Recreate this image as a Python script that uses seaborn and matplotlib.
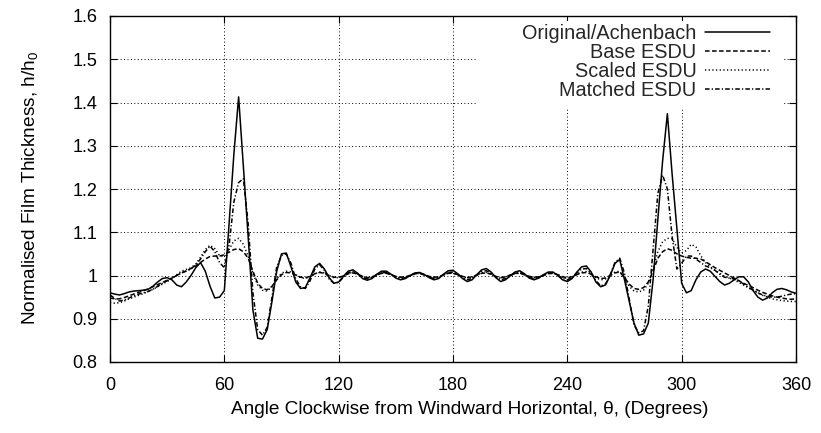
import numpy as np
import pandas as pd
import matplotlib
matplotlib.use("Agg")
import matplotlib.pyplot as plt
from matplotlib.patches import Rectangle
from matplotlib.ticker import FuncFormatter
import seaborn as sns

# ---------------- data ----------------
angles = np.arange(0, 362.5, 2.5)

original = [
    0.960, 0.957, 0.955, 0.958, 0.962, 0.964, 0.965, 0.966, 0.968, 0.975,
    0.985, 0.993, 0.995, 0.990, 0.978, 0.974, 0.985, 1.000, 1.018, 1.030,
    1.010, 0.975, 0.948, 0.950, 0.965, 1.120, 1.280, 1.413, 1.250, 1.090,
    0.920, 0.855, 0.853, 0.875, 0.940, 1.010, 1.050, 1.052, 1.020, 0.985,
    0.970, 0.972, 0.995, 1.020, 1.028, 1.015, 0.995, 0.982, 0.985, 0.998,
    1.010, 1.013, 1.005, 0.993, 0.989, 0.993, 1.003, 1.010, 1.010, 1.003,
    0.994, 0.990, 0.993, 1.000, 1.006, 1.007, 1.002, 0.995, 0.990, 0.993,
    1.003, 1.011, 1.012, 1.004, 0.993, 0.986, 0.990, 1.002, 1.013, 1.016,
    1.008, 0.995, 0.986, 0.990, 0.999, 1.008, 1.011, 1.004, 0.994, 0.990,
    0.994, 1.002, 1.008, 1.008, 1.000, 0.990, 0.986, 0.993, 1.008, 1.020,
    1.022, 1.008, 0.985, 0.974, 0.978, 1.000, 1.028, 1.037, 0.990, 0.940,
    0.890, 0.862, 0.865, 0.890, 0.990, 1.130, 1.265, 1.374, 1.234, 1.108,
    0.982, 0.960, 0.965, 0.990, 1.008, 1.015, 1.010, 0.998, 0.986, 0.978,
    0.982, 0.990, 0.997, 0.997, 0.985, 0.965, 0.950, 0.943, 0.948, 0.960,
    0.968, 0.970, 0.967, 0.962, 0.959,
]

base_esdu = [
    0.948, 0.946, 0.946, 0.949, 0.953, 0.957, 0.961, 0.965, 0.969, 0.974,
    0.979, 0.984, 0.989, 0.994, 1.000, 1.006, 1.011, 1.016, 1.022, 1.030,
    1.038, 1.044, 1.045, 1.045, 1.048, 1.054, 1.060, 1.062, 1.055, 1.040,
    1.010, 0.982, 0.970, 0.967, 0.975, 0.990, 1.002, 1.007, 1.006, 1.001,
    0.996, 0.995, 0.998, 1.004, 1.007, 1.005, 1.000, 0.996, 0.996, 0.999,
    1.004, 1.006, 1.003, 0.998, 0.995, 0.997, 1.001, 1.005, 1.005, 1.002,
    0.998, 0.996, 0.997, 1.000, 1.004, 1.005, 1.002, 0.998, 0.996, 0.997,
    1.001, 1.005, 1.005, 1.002, 0.998, 0.995, 0.997, 1.001, 1.005, 1.006,
    1.003, 0.998, 0.995, 0.997, 1.001, 1.005, 1.005, 1.002, 0.998, 0.996,
    0.997, 1.000, 1.004, 1.005, 1.002, 0.997, 0.995, 0.997, 1.002, 1.006,
    1.007, 1.003, 0.997, 0.993, 0.994, 1.000, 1.006, 1.008, 0.995, 0.980,
    0.970, 0.968, 0.972, 0.985, 1.010, 1.040, 1.055, 1.062, 1.058, 1.050,
    1.045, 1.042, 1.040, 1.040, 1.038, 1.032, 1.025, 1.018, 1.012, 1.006,
    1.000, 0.994, 0.988, 0.982, 0.977, 0.972, 0.966, 0.961, 0.957, 0.953,
    0.950, 0.948, 0.946, 0.945, 0.946,
]

scaled_esdu = [
    0.938, 0.936, 0.937, 0.941, 0.946, 0.950, 0.954, 0.958, 0.963, 0.968,
    0.974, 0.980, 0.986, 0.993, 1.002, 1.010, 1.014, 1.018, 1.026, 1.042,
    1.060, 1.070, 1.062, 1.046, 1.044, 1.060, 1.080, 1.086, 1.072, 1.045,
    1.005, 0.978, 0.966, 0.964, 0.974, 0.992, 1.005, 1.010, 1.008, 1.002,
    0.995, 0.993, 0.997, 1.004, 1.008, 1.006, 1.000, 0.995, 0.995, 0.999,
    1.005, 1.007, 1.004, 0.998, 0.994, 0.996, 1.001, 1.006, 1.006, 1.002,
    0.997, 0.995, 0.996, 1.000, 1.005, 1.006, 1.002, 0.997, 0.995, 0.996,
    1.001, 1.006, 1.006, 1.002, 0.997, 0.994, 0.996, 1.001, 1.006, 1.007,
    1.003, 0.997, 0.994, 0.996, 1.001, 1.006, 1.006, 1.002, 0.997, 0.995,
    0.996, 1.000, 1.005, 1.006, 1.002, 0.996, 0.993, 0.996, 1.003, 1.008,
    1.009, 1.004, 0.995, 0.990, 0.992, 1.000, 1.008, 1.010, 0.993, 0.975,
    0.964, 0.962, 0.966, 0.982, 1.015, 1.055, 1.078, 1.086, 1.085, 1.065,
    1.052, 1.058, 1.072, 1.066, 1.046, 1.030, 1.020, 1.012, 1.005, 0.998,
    0.994, 0.990, 0.984, 0.978, 0.972, 0.966, 0.960, 0.954, 0.950, 0.946,
    0.944, 0.942, 0.941, 0.940, 0.940,
]

matched_esdu = [
    0.955, 0.947, 0.941, 0.943, 0.948, 0.953, 0.957, 0.960, 0.963, 0.968,
    0.975, 0.982, 0.988, 0.994, 1.000, 1.006, 1.010, 1.015, 1.025, 1.038,
    1.055, 1.068, 1.055, 1.030, 1.018, 1.070, 1.170, 1.215, 1.224, 1.120,
    0.960, 0.875, 0.862, 0.880, 0.950, 1.020, 1.046, 1.050, 1.028, 0.992,
    0.974, 0.970, 0.988, 1.015, 1.025, 1.012, 0.992, 0.982, 0.984, 0.996,
    1.007, 1.009, 1.004, 0.995, 0.992, 0.995, 1.002, 1.007, 1.007, 1.002,
    0.996, 0.993, 0.995, 1.000, 1.004, 1.005, 1.001, 0.996, 0.993, 0.995,
    1.002, 1.007, 1.008, 1.003, 0.995, 0.990, 0.993, 1.001, 1.009, 1.011,
    1.005, 0.996, 0.990, 0.993, 0.999, 1.005, 1.007, 1.003, 0.996, 0.993,
    0.996, 1.001, 1.006, 1.006, 1.000, 0.993, 0.990, 0.995, 1.006, 1.015,
    1.016, 1.005, 0.988, 0.976, 0.980, 1.002, 1.030, 1.040, 1.005, 0.945,
    0.885, 0.868, 0.872, 0.930, 1.060, 1.190, 1.232, 1.200, 1.090, 1.015,
    1.028, 1.045, 1.045, 1.038, 1.030, 1.022, 1.018, 1.012, 1.003, 0.996,
    0.994, 0.992, 0.988, 0.980, 0.972, 0.966, 0.960, 0.955, 0.952, 0.950,
    0.950, 0.952, 0.955, 0.957, 0.958,
]

series_names = ["Original/Achenbach", "Base ESDU", "Scaled ESDU", "Matched ESDU"]
x_ticks = [0, 60, 120, 180, 240, 300, 360]
y_ticks = [0.8, 0.9, 1.0, 1.1, 1.2, 1.3, 1.4, 1.5, 1.6]

# ---------------- style ----------------
sns.set_theme(style="white")
plt.rcParams["font.family"] = ["Liberation Sans", "DejaVu Sans"]
plt.rcParams["mathtext.fontset"] = "custom"
plt.rcParams["mathtext.rm"] = "Liberation Sans"
plt.rcParams["mathtext.it"] = "Liberation Sans:italic"
plt.rcParams["mathtext.default"] = "regular"
FS_TICK = 13
FS_LABEL = 13.7
FS_LEG = 14.3

df = pd.DataFrame({
    "angle": np.concatenate([angles] * 4),
    "h": np.concatenate([original, base_esdu, scaled_esdu, matched_esdu]),
    "series": np.repeat(series_names, len(angles)),
})

fig = plt.figure(figsize=(8.21, 4.33), dpi=100)
ax = fig.add_axes([110 / 821, 1 - 362 / 433, 686 / 821, 346 / 433])

styles = {
    "Original/Achenbach": "-",
    "Base ESDU": (0, (3.0, 1.6)),
    "Scaled ESDU": (0, (0.8, 1.6)),
    "Matched ESDU": (0, (3.0, 1.4, 0.8, 1.4)),
}
for name in series_names:
    sub = df[df["series"] == name]
    sns.lineplot(data=sub, x="angle", y="h", ax=ax, color="black",
                 linewidth=1.1, linestyle=styles[name], label=name,
                 legend=False, zorder=3)

ax.set_xlim(0, 360)
ax.set_ylim(0.8, 1.6)
ax.set_xticks(x_ticks)
ax.set_yticks(y_ticks)
ax.yaxis.set_major_formatter(FuncFormatter(lambda v, p: f"{v:g}"))
ax.grid(True, color="black", linestyle=(0, (1, 2.5)), linewidth=0.7)
ax.set_axisbelow(True)
ax.tick_params(axis="both", which="major", direction="in", length=5,
               width=0.8, colors="black", labelsize=FS_TICK, top=True,
               right=True, bottom=True, left=True)
ax.tick_params(axis="x", pad=11)
ax.tick_params(axis="y", pad=9)
for s in ax.spines.values():
    s.set_color("black")
    s.set_linewidth(1.0)

ax.set_xlabel("Angle Clockwise from Windward Horizontal, \u03b8, (Degrees)",
              fontsize=FS_LABEL, color="black")
ax.xaxis.set_label_coords((470 - 110) / 686, -(410 - 362) / 346)
ax.xaxis.label.set_va("center")
ax.set_ylabel("Normalised Film Thickness, h/h$_0$", fontsize=FS_LABEL,
              color="black")
ax.yaxis.set_label_coords(-(110 - 30) / 686, (362 - 188) / 346)
ax.yaxis.label.set_va("center")

# white key background (as in the original)
x0 = (478 - 110) / 686
x1 = (783 - 110) / 686
y0 = (362 - 108) / 346
y1 = (362 - 21) / 346
ax.add_patch(Rectangle((x0, y0), x1 - x0, y1 - y0, transform=ax.transAxes,
                       facecolor="white", edgecolor="none", zorder=1))

leg = ax.legend(loc="upper right", frameon=False, markerfirst=False,
                fontsize=FS_LEG, handlelength=3.25, handletextpad=0.45,
                labelspacing=0.0, borderpad=0.0, borderaxespad=0.0,
                bbox_to_anchor=((770 - 110) / 686, (362 - 24) / 346))
for line in leg.get_lines():
    line.set_linewidth(1.1)

fig.savefig("out.png", dpi=100)
